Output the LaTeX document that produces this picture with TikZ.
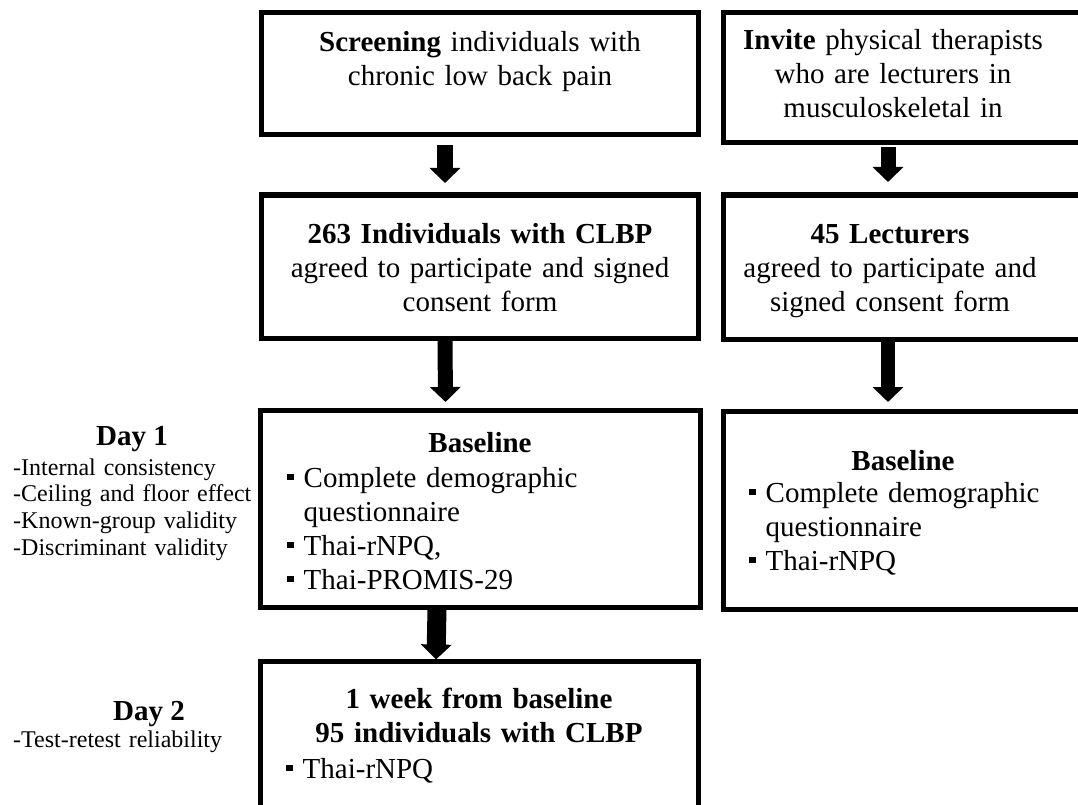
\documentclass[tikz,border=0pt]{standalone}
\usepackage{fontspec}
\setmainfont{Liberation Serif}
\usetikzlibrary{arrows.meta,fit,calc}
% small filled square used as list bullet, followed by the hanging indent
\newcommand{\sqbullet}{\makebox[16.5pt][l]{\rule[7pt]{6.5pt}{6.5pt}}}
\newcommand{\hangsp}{\hspace*{16.5pt}}

\begin{document}
\begin{tikzpicture}[x=1pt,y=-1pt,
  box/.style={draw, line width=5pt, inner sep=0pt},
  ctext/.style={anchor=base, inner sep=0pt, text width=420pt, align=center,
    font=\fontsize{29}{34}\selectfont},
  ltext/.style={anchor=base west, inner sep=0pt, text width=400pt, align=left,
    font=\fontsize{29}{34}\selectfont},
  side/.style={anchor=base west, inner sep=0pt, text width=260pt, align=left,
    font=\fontsize{24}{26.7}\selectfont},
  dayhead/.style={anchor=base, inner sep=0pt, font=\fontsize{29}{34}\selectfont\bfseries},
  fat/.style={line width=#1, -{Triangle[width=30pt,length=15pt]}},
]
\useasboundingbox (0,0) rectangle (1078,805);
\fill[white] (0,0) rectangle (1078,805);
\clip (0,0) rectangle (1078,805);

% ---- left column: CLBP participants
\node[box, fit={(261,12.5) (698,135)}] (b1) {};
\node[box, fit={(261,195) (698,338)}] (b2) {};
\node[box, fit={(260,410) (700,607)}] (b3) {};
\node[box, fit={(260,661) (698,850)}] (b4) {};

\node[ctext] (t1) at (480,52) {\textbf{Screening} individuals with\\chronic low back pain};
\node[ctext] (t2) at (480,243) {\textbf{263 Individuals with CLBP}\\agreed to participate and signed\\consent form};
\node[ctext] (t3) at (480,452) {\textbf{Baseline}};
\node[ltext] (l3) at (287,487) {\sqbullet Complete demographic\\\hangsp questionnaire\\\sqbullet Thai-rNPQ,\\\sqbullet Thai-PROMIS-29};
\node[ctext] (t4) at (479,708) {\textbf{1 week from baseline}\\\textbf{95 individuals with CLBP}};
\node[ltext] (l4) at (286,778) {\sqbullet Thai-rNPQ};

% ---- right column: lecturers
\node[box, fit={(723,12.5) (1083,143)}] (r1) {};
\node[box, fit={(723,195) (1083,339)}] (r2) {};
\node[box, fit={(723,411) (1083,609)}] (r3) {};

\node[ctext] (u1) at (893,50) {\textbf{Invite} physical therapists\\who are lecturers in\\musculoskeletal in};
\node[ctext] (u2) at (890,243) {\textbf{45 Lecturers}\\agreed to participate and\\signed consent form};
\node[ctext] (u3) at (903,470) {\textbf{Baseline}};
\node[ltext] (m3) at (749,502) {\sqbullet Complete demographic\\\hangsp questionnaire\\\sqbullet Thai-rNPQ};

% ---- block arrows
\draw[fat=16pt] ($(b1.south)+(-34.5,7.5)$) -- ($(b2.north)+(-34.5,-9.5)$);
\draw[fat=15pt] ($(b2.south)+(-34.5,-1)$) -- ($(b3.north)+(-34.5,-5.5)$);
\draw[fat=19pt] ($(b3.south)+(-43,-1)$) -- ($(b4.north)+(-43,1)$);
\draw[fat=15pt] ($(r1.south)+(-15,2)$) -- ($(r2.north)+(-15,-10.5)$);
\draw[fat=14pt] ($(r2.south)+(-15,-1)$) -- ($(r3.north)+(-15,-6.5)$);

% ---- day labels
\node[dayhead] (d1) at (132,445) {Day 1};
\node[side] (s1) at (13,475) {-Internal consistency\\-Ceiling and floor effect\\-Known-group validity\\-Discriminant validity};
\node[dayhead] (d2) at (149,720) {Day 2};
\node[side] (s2) at (13,747) {-Test-retest reliability};
\end{tikzpicture}
\end{document}
